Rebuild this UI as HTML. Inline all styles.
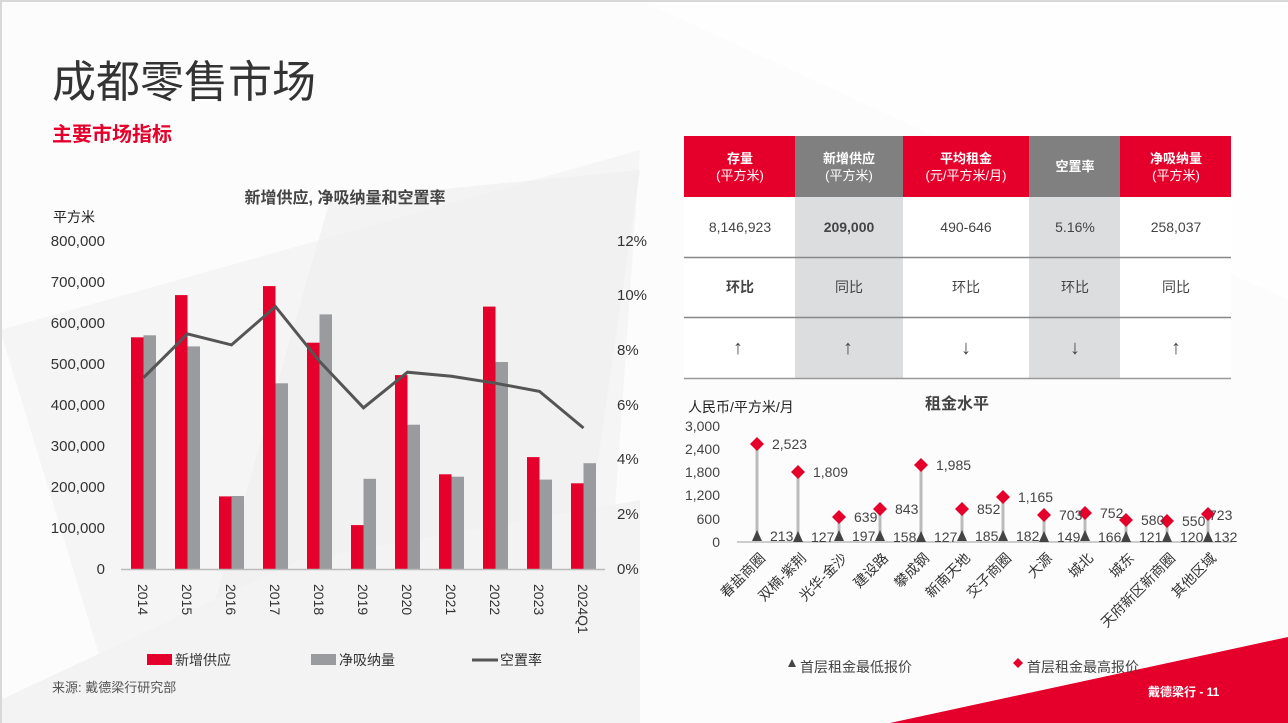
<!DOCTYPE html>
<html><head><meta charset="utf-8"><style>
html,body{margin:0;padding:0;background:#fff}
svg{display:block}
text{font-family:"Liberation Sans","Noto Sans CJK SC",sans-serif}
</style></head><body>
<svg width="1288" height="723" viewBox="0 0 1288 723" xmlns="http://www.w3.org/2000/svg">
<rect width="1288" height="723" fill="#fcfcfc"/>
<polygon points="0,330 640,150 600,723 120,723" fill="#f5f5f5"/>
<polygon points="180,723 330,200 640,170 560,723" fill="#efefef" opacity="0.7"/>
<polygon points="0,700 300,560 640,500 640,723 0,723" fill="#f3f3f3"/>
<polygon points="640,0 1288,0 1288,300 900,120" fill="#fefefe"/>
<rect x="0" y="0" width="1288" height="2" fill="#d8d8d8"/>
<rect x="0" y="0" width="2" height="723" fill="#d8d8d8"/>
<polygon points="890,723 1288,637 1288,723" fill="#e4002b"/>
<text x="1148" y="696" font-size="12" font-weight="bold" fill="#fff">戴德梁行 - 11</text>

<text x="52" y="97" font-size="44" fill="#333">成都零售市场</text>
<text x="52" y="141" font-size="20" font-weight="bold" fill="#e4002b">主要市场指标</text>

<!-- left chart -->
<text x="345" y="203" font-size="16" font-weight="bold" fill="#444" text-anchor="middle">新增供应, 净吸纳量和空置率</text>
<text x="53" y="222" font-size="14" fill="#222">平方米</text>
<g font-size="15" fill="#333" text-anchor="end">
<text x="105" y="246">800,000</text><text x="105" y="287">700,000</text><text x="105" y="328">600,000</text><text x="105" y="369">500,000</text><text x="105" y="410">400,000</text><text x="105" y="451">300,000</text><text x="105" y="492">200,000</text><text x="105" y="533">100,000</text><text x="105" y="574">0</text>
</g>
<g font-size="15" fill="#333">
<text x="617" y="246">12%</text><text x="617" y="300">10%</text><text x="617" y="355">8%</text><text x="617" y="410">6%</text><text x="617" y="464">4%</text><text x="617" y="519">2%</text><text x="617" y="574">0%</text>
</g>
<g fill="#e4002b">
<rect x="131" y="337.3" width="12.5" height="231.7"/><rect x="175" y="295.1" width="12.5" height="273.9"/><rect x="219" y="496.4" width="12.5" height="72.6"/><rect x="263" y="286.1" width="12.5" height="282.9"/><rect x="307" y="342.7" width="12.5" height="226.3"/><rect x="351" y="525.1" width="12.5" height="43.9"/><rect x="395" y="375.1" width="12.5" height="193.9"/><rect x="439" y="474.3" width="12.5" height="94.7"/><rect x="483" y="306.6" width="12.5" height="262.4"/><rect x="527" y="457.1" width="12.5" height="111.9"/><rect x="571" y="483.3" width="12.5" height="85.7"/>
</g>
<g fill="#999b9e">
<rect x="143.5" y="335.3" width="12.5" height="233.7"/><rect x="187.5" y="346.4" width="12.5" height="222.6"/><rect x="231.5" y="496" width="12.5" height="73"/><rect x="275.5" y="383.3" width="12.5" height="185.7"/><rect x="319.5" y="314.4" width="12.5" height="254.6"/><rect x="363.5" y="478.8" width="12.5" height="90.2"/><rect x="407.5" y="424.7" width="12.5" height="144.3"/><rect x="451.5" y="476.7" width="12.5" height="92.3"/><rect x="495.5" y="362" width="12.5" height="207"/><rect x="539.5" y="479.6" width="12.5" height="89.4"/><rect x="583.5" y="463.2" width="12.5" height="105.8"/>
</g>
<line x1="121" y1="569.5" x2="605" y2="569.5" stroke="#bbb" stroke-width="1.5"/>
<polyline points="143.5,377.7 187.5,333.9 231.5,344.9 275.5,306.6 319.5,361.3 363.5,407.8 407.5,372.2 451.5,376.3 495.5,383.2 539.5,391.4 583.5,428" fill="none" stroke="#555" stroke-width="3"/>
<g font-size="14" fill="#333">
<text transform="translate(138,584) rotate(90)">2014</text><text transform="translate(182,584) rotate(90)">2015</text><text transform="translate(226,584) rotate(90)">2016</text><text transform="translate(270,584) rotate(90)">2017</text><text transform="translate(314,584) rotate(90)">2018</text><text transform="translate(358,584) rotate(90)">2019</text><text transform="translate(402,584) rotate(90)">2020</text><text transform="translate(446,584) rotate(90)">2021</text><text transform="translate(490,584) rotate(90)">2022</text><text transform="translate(534,584) rotate(90)">2023</text><text transform="translate(578,584) rotate(90)">2024Q1</text>
</g>
<rect x="147" y="654" width="25" height="11" fill="#e4002b"/>
<text x="175" y="665" font-size="14" fill="#333">新增供应</text>
<rect x="311" y="654" width="25" height="11" fill="#999b9e"/>
<text x="339" y="665" font-size="14" fill="#333">净吸纳量</text>
<line x1="472" y1="660" x2="498" y2="660" stroke="#555" stroke-width="3"/>
<text x="500" y="665" font-size="14" fill="#333">空置率</text>
<text x="52" y="692" font-size="13" fill="#555">来源: 戴德梁行研究部</text>

<!-- table -->
<rect x="684" y="136" width="111" height="61" fill="#e4002b"/>
<rect x="795" y="136" width="108" height="61" fill="#808080"/>
<rect x="903" y="136" width="126" height="61" fill="#e4002b"/>
<rect x="1029" y="136" width="91" height="61" fill="#808080"/>
<rect x="1120" y="136" width="111" height="61" fill="#e4002b"/>
<rect x="684" y="197" width="547" height="181" fill="#fff"/>
<rect x="795" y="197" width="108" height="181" fill="#dcdddf"/>
<rect x="1029" y="197" width="91" height="181" fill="#dcdddf"/>
<g fill="#fff" text-anchor="middle" font-size="13">
<text x="740" y="163" font-weight="bold">存量</text><text x="740" y="180">(平方米)</text>
<text x="849" y="163" font-weight="bold">新增供应</text><text x="849" y="180">(平方米)</text>
<text x="966" y="163" font-weight="bold">平均租金</text><text x="966" y="180">(元/平方米/月)</text>
<text x="1075" y="171" font-weight="bold">空置率</text>
<text x="1176" y="163" font-weight="bold">净吸纳量</text><text x="1176" y="180">(平方米)</text>
</g>
<g fill="#444" text-anchor="middle" font-size="14">
<text x="740" y="232">8,146,923</text><text x="849" y="232" font-weight="bold">209,000</text><text x="966" y="232">490-646</text><text x="1075" y="232">5.16%</text><text x="1176" y="232">258,037</text>
<text x="740" y="292" font-weight="bold">环比</text><text x="849" y="292">同比</text><text x="966" y="292">环比</text><text x="1075" y="292">环比</text><text x="1176" y="292">同比</text>
</g>
<g fill="#444" text-anchor="middle" font-size="20">
<text x="738" y="354">↑</text><text x="848" y="354">↑</text><text x="966" y="354">↓</text><text x="1075" y="354">↓</text><text x="1176" y="354">↑</text>
</g>
<line x1="684" y1="257.5" x2="1231" y2="257.5" stroke="#888" stroke-width="1.5"/>
<line x1="684" y1="317.5" x2="1231" y2="317.5" stroke="#888" stroke-width="1.5"/>
<line x1="684" y1="378.5" x2="1231" y2="378.5" stroke="#999" stroke-width="1.5"/>

<!-- rent chart -->
<text x="688" y="412" font-size="14" fill="#222">人民币/平方米/月</text>
<text x="957" y="409" font-size="16" font-weight="bold" fill="#444" text-anchor="middle">租金水平</text>
<g font-size="14" fill="#444" text-anchor="end">
<text x="720" y="431">3,000</text><text x="720" y="454">2,400</text><text x="720" y="477">1,800</text><text x="720" y="500">1,200</text><text x="720" y="524">600</text><text x="720" y="547">0</text>
</g>
<line x1="737" y1="542" x2="1232" y2="542" stroke="#bbb" stroke-width="1.5"/>
<g stroke="#bbb" stroke-width="3">
<line x1="757" y1="444" x2="757" y2="536"/><line x1="798" y1="472" x2="798" y2="537"/><line x1="839" y1="517" x2="839" y2="536"/><line x1="880" y1="509" x2="880" y2="536"/><line x1="921" y1="465" x2="921" y2="537"/><line x1="962" y1="509" x2="962" y2="537"/><line x1="1003" y1="497" x2="1003" y2="536"/><line x1="1044" y1="515" x2="1044" y2="536"/><line x1="1085" y1="513" x2="1085" y2="536"/><line x1="1126" y1="520" x2="1126" y2="537"/><line x1="1167" y1="521" x2="1167" y2="537"/><line x1="1208" y1="514" x2="1208" y2="537"/>
</g>
<g fill="#444">
<polygon points="752,541 762,541 757,530"/><polygon points="793,542 803,542 798,531"/><polygon points="834,541 844,541 839,530"/><polygon points="875,541 885,541 880,530"/><polygon points="916,542 926,542 921,531"/><polygon points="957,541 967,541 962,530"/><polygon points="998,541 1008,541 1003,530"/><polygon points="1039,542 1049,542 1044,531"/><polygon points="1080,541 1090,541 1085,530"/><polygon points="1121,542 1131,542 1126,531"/><polygon points="1162,542 1172,542 1167,531"/><polygon points="1203,542 1213,542 1208,531"/>
</g>
<g fill="#e4002b">
<polygon points="757,437 764,444 757,451 750,444"/><polygon points="798,465 805,472 798,479 791,472"/><polygon points="839,510 846,517 839,524 832,517"/><polygon points="880,502 887,509 880,516 873,509"/><polygon points="921,458 928,465 921,472 914,465"/><polygon points="962,502 969,509 962,516 955,509"/><polygon points="1003,490 1010,497 1003,504 996,497"/><polygon points="1044,508 1051,515 1044,522 1037,515"/><polygon points="1085,506 1092,513 1085,520 1078,513"/><polygon points="1126,513 1133,520 1126,527 1119,520"/><polygon points="1167,514 1174,521 1167,528 1160,521"/><polygon points="1208,507 1215,514 1208,521 1201,514"/>
</g>
<g font-size="14" fill="#444">
<text x="772" y="449">2,523</text><text x="813" y="477">1,809</text><text x="854" y="522">639</text><text x="895" y="514">843</text><text x="936" y="470">1,985</text><text x="977" y="514">852</text><text x="1018" y="502">1,165</text><text x="1059" y="520">703</text><text x="1100" y="518">752</text><text x="1141" y="525">580</text><text x="1182" y="526">550</text><text x="1209" y="520">723</text>
<text x="770" y="541">213</text><text x="811" y="542">127</text><text x="852" y="541">197</text><text x="893" y="542">158</text><text x="934" y="542">127</text><text x="975" y="541">185</text><text x="1016" y="541">182</text><text x="1057" y="542">149</text><text x="1098" y="542">166</text><text x="1139" y="542">121</text><text x="1180" y="542">120</text><text x="1214" y="542">132</text>
</g>
<g font-size="14" fill="#333" text-anchor="end">
<text transform="translate(766,559) rotate(-45)">春盐商圈</text><text transform="translate(807,559) rotate(-45)">双楠-紫荆</text><text transform="translate(848,559) rotate(-45)">光华-金沙</text><text transform="translate(889,559) rotate(-45)">建设路</text><text transform="translate(930,559) rotate(-45)">攀成钢</text><text transform="translate(971,559) rotate(-45)">新南天地</text><text transform="translate(1012,559) rotate(-45)">交子商圈</text><text transform="translate(1053,559) rotate(-45)">大源</text><text transform="translate(1094,559) rotate(-45)">城北</text><text transform="translate(1135,559) rotate(-45)">城东</text><text transform="translate(1176,559) rotate(-45)">天府新区新商圈</text><text transform="translate(1217,559) rotate(-45)">其他区域</text>
</g>
<polygon points="788,667 796,667 792,659" fill="#444"/>
<text x="800" y="672" font-size="14" fill="#444">首层租金最低报价</text>
<polygon points="1018,658 1023,663 1018,668 1013,663" fill="#e4002b"/>
<text x="1027" y="672" font-size="14" fill="#444">首层租金最高报价</text>
</svg>
</body></html>
